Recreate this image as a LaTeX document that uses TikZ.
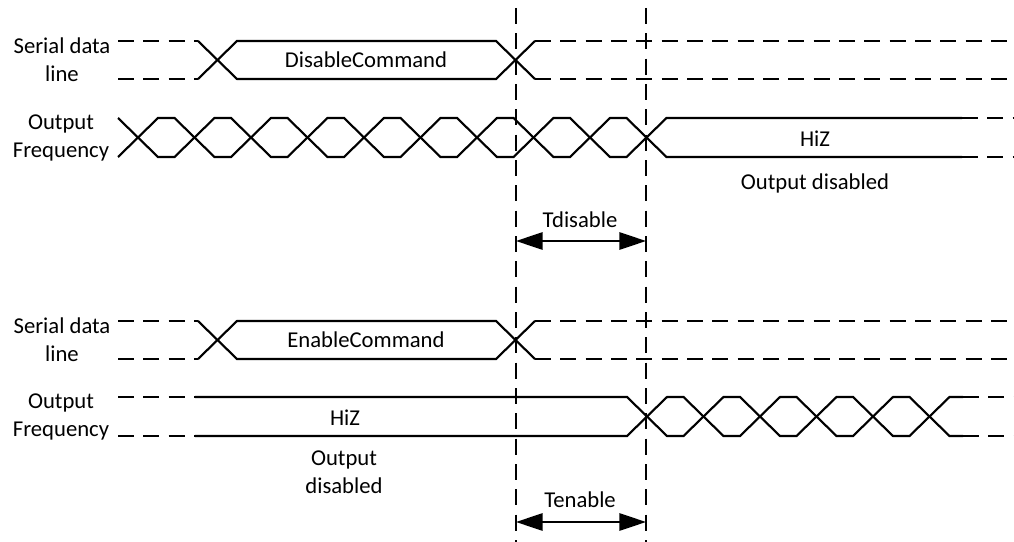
\documentclass[tikz,border=0pt]{standalone}
\usepackage{fontspec}
\setmainfont{Carlito}
\usetikzlibrary{arrows.meta}
\begin{document}
\begin{tikzpicture}[x=0.75pt,y=-0.75pt,
  sig/.style={line width=1.6pt, line join=miter},
  dsig/.style={line width=1.6pt, dash pattern=on 12pt off 7pt},
  vline/.style={line width=1.6pt, dash pattern=on 12pt off 7pt},
  lbl/.style={font=\fontsize{17}{21}\selectfont, align=center, inner sep=0pt},
  dimarrow/.style={line width=1.6pt, {Triangle[length=20pt,width=13pt]}-{Triangle[length=20pt,width=13pt]}}]
\useasboundingbox (0,0) rectangle (1014,542);

% vertical markers
\coordinate (v1t) at (516,8);  \coordinate (v1b) at (516,542);
\coordinate (v2t) at (646,8);  \coordinate (v2b) at (646,542);
\draw[vline] (v1t) -- (v1b);
\draw[vline] (v2t) -- (v2b);

% ---------- top: serial data line ----------
\draw[dsig] (118,41) -- (198,41);
\draw[dsig] (118,79) -- (198,79);
\draw[sig] (198,41) -- (237,79) -- (496,79) -- (535,41);
\draw[sig] (198,79) -- (237,41) -- (496,41) -- (535,79);
\draw[dsig] (535,41) -- (1014,41);
\draw[dsig] (535,79) -- (1014,79);

% ---------- top: output frequency ----------
\draw[sig] (118,118) \foreach \k in {1,...,5}{ -- ++(40,39) -- ++(16.5,0) -- ++(40,-39) -- ++(16.5,0)} -- (962,118);
\draw[sig] (118,157) \foreach \k in {1,...,5}{ -- ++(40,-39) -- ++(16.5,0) -- ++(40,39) -- ++(16.5,0)} -- (962,157);
\draw[dsig] (962,118) -- (1014,118);
\draw[dsig] (962,157) -- (1014,157);

% ---------- bottom: serial data line ----------
\draw[dsig] (118,321) -- (198,321);
\draw[dsig] (118,359) -- (198,359);
\draw[sig] (198,321) -- (237,359) -- (496,359) -- (535,321);
\draw[sig] (198,359) -- (237,321) -- (496,321) -- (535,359);
\draw[dsig] (535,321) -- (1014,321);
\draw[dsig] (535,359) -- (1014,359);

% ---------- bottom: output frequency ----------
\draw[dsig] (118,397) -- (195,397);
\draw[dsig] (118,436) -- (195,436);
\draw[sig] (195,397) -- (627,397) \foreach \k in {1,2}{ -- ++(40,39) -- ++(16.5,0) -- ++(40,-39) -- ++(16.5,0)} -- ++(40,39) -- ++(16.5,0) -- ++(40,-39) -- (963,397);
\draw[sig] (195,436) -- (627,436) \foreach \k in {1,2}{ -- ++(40,-39) -- ++(16.5,0) -- ++(40,39) -- ++(16.5,0)} -- ++(40,-39) -- ++(16.5,0) -- ++(40,39) -- (963,436);
\draw[dsig] (963,397) -- (1014,397);
\draw[dsig] (963,436) -- (1014,436);

% ---------- labels ----------
\node[lbl] (sdl1) at (62,60) {Serial data\\line};
\node[lbl] (of1) at (61,137.5) {Output\\Frequency};
\node[lbl] (sdl2) at (62,340) {Serial data\\line};
\node[lbl] (of2) at (61,416.5) {Output\\Frequency};

\node[lbl] (dis) at (366,60) {DisableCommand};
\node[lbl] (ena) at (366,340) {EnableCommand};
\node[lbl] (hiz1) at (815,139) {HiZ};
\node[lbl] (od1) at (815,183) {Output disabled};
\node[lbl] (hiz2) at (345,418) {HiZ};
\node[lbl] (od2) at (344,472) {Output\\disabled};

% ---------- timing dimensions ----------
\coordinate (a1) at (516,241); \coordinate (a2) at (646,241);
\draw[dimarrow] (a1) -- (a2);
\node[lbl] (tdis) at (580,220) {Tdisable};
\coordinate (b1) at (516,522); \coordinate (b2) at (646,522);
\draw[dimarrow] (b1) -- (b2);
\node[lbl] (tena) at (580,500) {Tenable};
\end{tikzpicture}
\end{document}
